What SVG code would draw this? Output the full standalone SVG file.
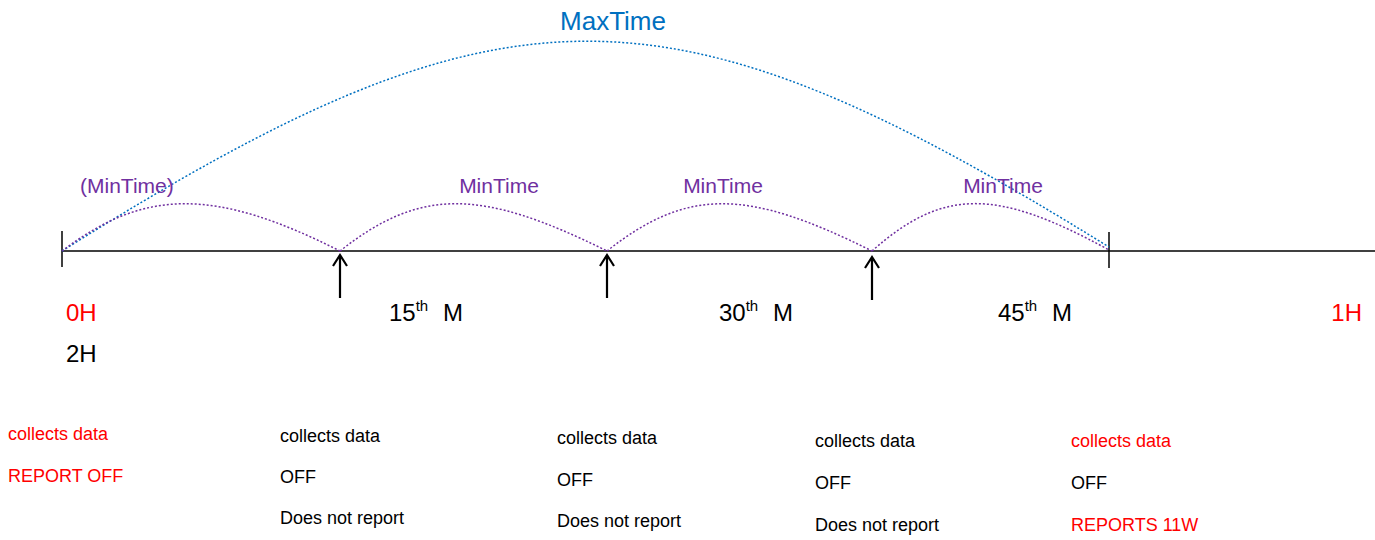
<svg xmlns="http://www.w3.org/2000/svg" width="1375" height="540" viewBox="0 0 1375 540">
<style>
text{font-family:"Liberation Sans",Arial,sans-serif;}
.lbl{font-size:24px;fill:#000;}
.min{font-size:21px;fill:#7030A0;}
.max{font-size:26px;fill:#0070C0;}
.note{font-size:18px;fill:#000;}
text.red{fill:#FF0000;}
.axis{stroke:#000;stroke-width:1.5;fill:none;}
.tick{stroke:#000;stroke-width:1.5;}
.arc{fill:none;stroke:#7030A0;stroke-width:1.5;stroke-dasharray:2 2;}
.marc{fill:none;stroke:#0070C0;stroke-width:1.5;stroke-dasharray:2 2;}
.arr{fill:none;stroke:#000;stroke-width:2.2;}
</style>
<rect width="1375" height="540" fill="#fff"/>
<g id="axis">
<line class="axis" x1="62" y1="251" x2="1375" y2="251"/>
<line class="tick" x1="62" y1="231" x2="62" y2="267"/>
<line class="tick" x1="1109" y1="232" x2="1109" y2="268"/>
</g>
<g id="connectors">
<path class="marc" d="M62,251 C506,-28 665,-28 1109,247"/>
<path class="arc" d="M62,251 C145,188 215,188 340,251"/>
<path class="arc" d="M340,251 C420,188 480,188 607,251"/>
<path class="arc" d="M607,251 C687,188 746,188 872,251"/>
<path class="arc" d="M872,251 C943,188 996,188 1109,250"/>
<path class="arr" d="M340,298 V255 M333,266 L340,255 L347,266"/>
<path class="arr" d="M607,298 V255 M600,266 L607,255 L614,266"/>
<path class="arr" d="M872,300 V257 M865,268 L872,257 L879,268"/>
</g>
<g id="maxtime"><text class="max" x="613" y="30" text-anchor="middle">MaxTime</text></g>
<g id="mintime0"><text class="min" x="80" y="193">(MinTime)</text></g>
<g id="mintime1"><text class="min" x="499" y="193" text-anchor="middle">MinTime</text></g>
<g id="mintime2"><text class="min" x="723" y="193" text-anchor="middle">MinTime</text></g>
<g id="mintime3"><text class="min" x="1003" y="193" text-anchor="middle">MinTime</text></g>
<g id="label-0h"><text class="lbl red" x="66" y="321">0H</text><text class="lbl" x="66" y="362">2H</text></g>
<g id="label-15"><text class="lbl" x="389" y="321">15<tspan font-size="15" dy="-10">th</tspan><tspan x="443" dy="10">M</tspan></text></g>
<g id="label-30"><text class="lbl" x="719" y="321">30<tspan font-size="15" dy="-10">th</tspan><tspan x="773" dy="10">M</tspan></text></g>
<g id="label-45"><text class="lbl" x="998" y="321">45<tspan font-size="15" dy="-10">th</tspan><tspan x="1052" dy="10">M</tspan></text></g>
<g id="label-1h"><text class="lbl red" x="1362" y="321" text-anchor="end">1H</text></g>
<g id="state0">
<text class="note red" x="8" y="440">collects data</text>
<text class="note red" x="8" y="482">REPORT OFF</text>
</g>
<g id="state1">
<text class="note" x="280" y="442">collects data</text>
<text class="note" x="280" y="483">OFF</text>
<text class="note" x="280" y="524">Does not report</text>
</g>
<g id="state2">
<text class="note" x="557" y="444">collects data</text>
<text class="note" x="557" y="486">OFF</text>
<text class="note" x="557" y="527">Does not report</text>
</g>
<g id="state3">
<text class="note" x="815" y="447">collects data</text>
<text class="note" x="815" y="489">OFF</text>
<text class="note" x="815" y="531">Does not report</text>
</g>
<g id="state4">
<text class="note red" x="1071" y="447">collects data</text>
<text class="note" x="1071" y="489">OFF</text>
<text class="note red" x="1071" y="531">REPORTS 11W</text>
</g>
</svg>
